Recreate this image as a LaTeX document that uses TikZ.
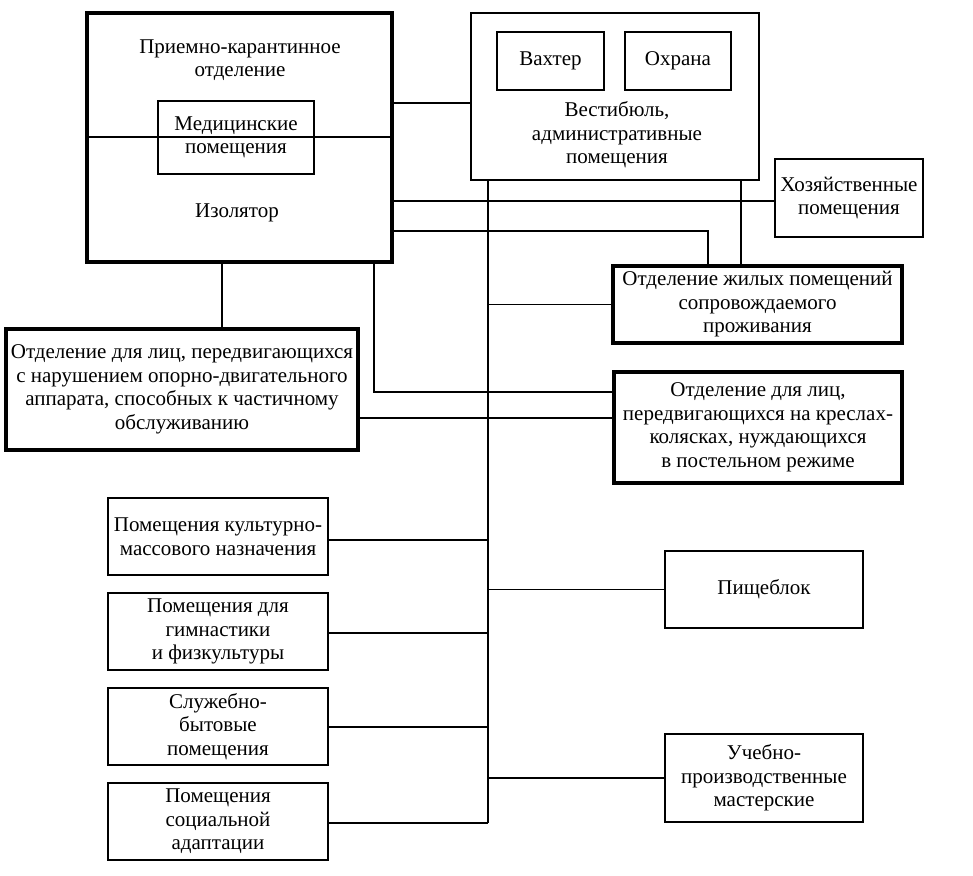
\documentclass[tikz,border=0pt]{standalone}
\usepackage{fontspec}
\setmainfont{Liberation Serif}
\begin{document}
\begin{tikzpicture}[x=1pt,y=-1pt,
  box/.style={draw,line width=1.8pt,inner sep=0pt,align=center,font=\fontsize{21}{23.5}\selectfont},
  thickbox/.style={box,line width=3.2pt},
  lbl/.style={inner sep=0pt,align=center,font=\fontsize{21}{23.5}\selectfont},
  conn/.style={line width=1.8pt}]
\useasboundingbox[fill=white] (0,0) rectangle (973,875);
% top-left complex
\node[thickbox,minimum width=305pt,minimum height=249pt] (quar) at (239.5,137.5) {};
\coordinate (qdl) at (87,137);
\coordinate (qdr) at (392,137);
\draw[conn] (quar.west |- qdl) -- (quar.east |- qdr);
\node[box,minimum width=156pt,minimum height=73pt] (med) at (236,137.5) {Медицинские\\помещения};
\node[lbl] (quartext) at (240,60) {Приемно-карантинное\\отделение};
\node[lbl] (izol) at (237,213) {Изолятор};
% vestibule
\node[box,minimum width=288pt,minimum height=167pt] (vest) at (615,96.5) {};
\node[lbl] (vesttext) at (617,135) {Вестибюль,\\административные\\помещения};
\node[box,minimum width=107pt,minimum height=58pt] (vakh) at (550.5,61) {Вахтер};
\node[box,minimum width=106pt,minimum height=58pt] (okhr) at (678,61) {Охрана};
% right column
\node[box,minimum width=148pt,minimum height=78pt] (khoz) at (849,198) {Хозяйственные\\помещения};
\node[thickbox,minimum width=289pt,minimum height=77pt] (zhil) at (757.5,304.5) {Отделение жилых помещений\\сопровождаемого\\проживания};
\node[thickbox,minimum width=352pt,minimum height=121pt] (odv) at (182,389.5) {Отделение для лиц, передвигающихся\\с нарушением опорно-двигательного\\аппарата, способных к частичному\\обслуживанию};
\node[thickbox,minimum width=288pt,minimum height=111pt] (kresla) at (758,427.5) {Отделение для лиц,\\передвигающихся на креслах-\\колясках, нуждающихся\\в постельном режиме};
% lower left
\node[box,minimum width=220pt,minimum height=77pt] (c1) at (218,536.5) {Помещения культурно-\\массового назначения};
\node[box,minimum width=220pt,minimum height=77pt] (c2) at (218,631.5) {Помещения для\\гимнастики\\и физкультуры};
\node[box,minimum width=220pt,minimum height=77pt] (c3) at (218,726.5) {Служебно-\\бытовые\\помещения};
\node[box,minimum width=220pt,minimum height=77pt] (c4) at (218,821.5) {Помещения\\социальной\\адаптации};
% lower right
\node[box,minimum width=198pt,minimum height=77pt] (pish) at (764,589.5) {Пищеблок};
\node[box,minimum width=198pt,minimum height=88pt] (ucheb) at (764,778) {Учебно-\\производственные\\мастерские};
% helper coordinates
\coordinate (sx) at (488,0);
\coordinate (ax) at (741,0);
\coordinate (bx) at (708,0);
\coordinate (lx) at (222,0);
\coordinate (rx) at (374,0);
\coordinate (y1) at (0,103);
\coordinate (y2) at (0,201);
\coordinate (y3) at (0,231);
\coordinate (y4) at (0,392);
\coordinate (y5) at (0,418);
\coordinate (r1) at (0,540);
\coordinate (r2) at (0,633);
\coordinate (r3) at (0,727);
\coordinate (spineend) at (488,823);
% connectors
\draw[conn] (quar.east |- y1) -- (vest.west |- y1);
\draw[conn] (quar.east |- y2) -- (khoz.west |- y2);
\draw[conn] (quar.east |- y3) -| (zhil.north -| bx);
\draw[conn] (vest.south -| ax) -- (zhil.north -| ax);
\draw[conn] (vest.south -| sx) -- (spineend);
\draw[conn] (zhil.west -| sx) -- (zhil.west);
\draw[conn] (quar.south -| lx) -- (odv.north -| lx);
\draw[conn] (quar.south -| rx) |- (kresla.west |- y4);
\draw[conn] (odv.east |- y5) -- (kresla.west |- y5);
\draw[conn] (c1.east |- r1) -- (sx |- r1);
\draw[conn] (c2.east |- r2) -- (sx |- r2);
\draw[conn] (c3.east |- r3) -- (sx |- r3);
\draw[conn] (c4.east |- spineend) -- (spineend);
\draw[conn] (pish.west -| sx) -- (pish.west);
\draw[conn] (ucheb.west -| sx) -- (ucheb.west);
\end{tikzpicture}
\end{document}
